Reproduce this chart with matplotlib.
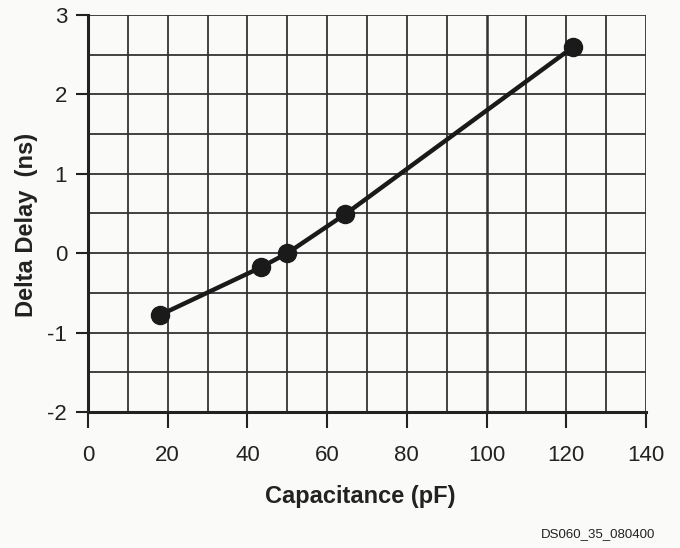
import numpy as np
import matplotlib.pyplot as plt

plt.rcParams['font.family'] = ['Liberation Sans', 'DejaVu Sans']
plt.rcParams['axes.unicode_minus'] = False

# delay change vs. load capacitance
cap_pf = [18, 43.3, 50, 64.5, 121.8]
delta_ns = [-0.78, -0.18, 0.0, 0.49, 2.6]

xticks = [0, 20, 40, 60, 80, 100, 120, 140]
yticks = [-2, -1, 0, 1, 2, 3]

bg = '#fafaf8'
fig = plt.figure(figsize=(6.8, 5.48), dpi=100, facecolor=bg)
ax = fig.add_axes([88 / 680, 1 - 412 / 548, (646 - 88) / 680, (412 - 15) / 548])
ax.set_facecolor(bg)

ax.set_xlim(0, 140)
ax.set_ylim(-2, 3)

# grid: every 10 pF and every 0.5 ns
for gx in np.arange(10, 141, 10):
    ax.axvline(gx, color='#333333', lw=1.3 if gx != 100 else 1.8, zorder=1)
for gy in np.arange(-1.5, 3.01, 0.5):
    ax.axhline(gy, color='#333333', lw=1.3, zorder=1)

ax.plot(cap_pf, delta_ns, color='#1a1a1a', lw=3.2, marker='o', ms=13,
        solid_capstyle='round', zorder=3, clip_on=False)

for side in ['top', 'right']:
    ax.spines[side].set_visible(False)
for side in ['left', 'bottom']:
    ax.spines[side].set_linewidth(2.2)
    ax.spines[side].set_color('#222222')

ax.set_xticks(xticks)
ax.set_yticks(yticks)
ax.tick_params(axis='x', direction='out', length=11.5, width=1.5, color='#222222',
               labelsize=16, pad=12, labelcolor='#222222')
ax.tick_params(axis='y', direction='out', length=8.6, width=1.5, color='#222222',
               labelsize=16, pad=6.5, labelcolor='#222222')

fig.text(360 / 680, 1 - 496 / 548, 'Capacitance (pF)', fontsize=17,
         fontweight='bold', ha='center', va='center', color='#222222')
fig.text(26 / 680, 1 - 225 / 548, 'Delta Delay  (ns)', fontsize=17,
         fontweight='bold', ha='center', va='center', rotation=90,
         color='#222222')

fig.text(655 / 680, 1 - 534 / 548, 'DS060_35_080400', fontsize=9.5, ha='right',
         va='center', color='#222222')

fig.savefig('out.png', dpi=100, facecolor=bg)
